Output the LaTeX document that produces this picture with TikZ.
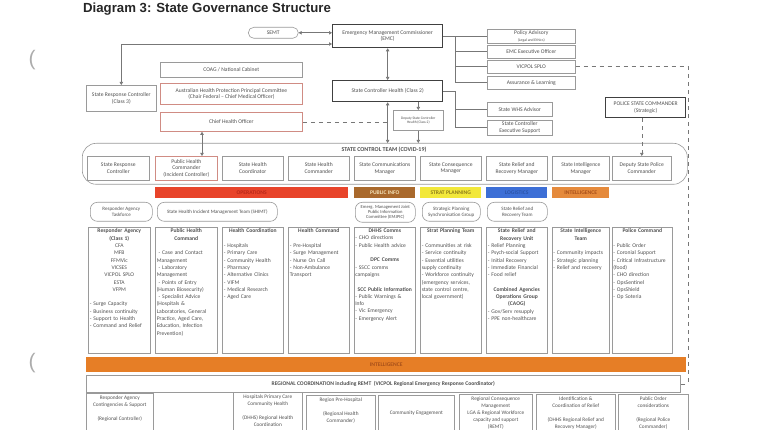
\documentclass[tikz,border=0pt]{standalone}
\usepackage{fontspec}
\setmainfont{Carlito}
\newfontfamily\titlefont{Liberation Sans}
\usetikzlibrary{arrows.meta,positioning}
\definecolor{boxgray}{HTML}{9A9A9A}
\definecolor{txtgray}{HTML}{505050}
\definecolor{linegray}{HTML}{777777}
\definecolor{redline}{HTML}{D08C84}
\definecolor{opsred}{HTML}{E8442A}
\definecolor{opstxt}{HTML}{B8281A}
\definecolor{pinfo}{HTML}{A9692C}
\definecolor{pinfotxt}{HTML}{F3E2B8}
\definecolor{stratyel}{HTML}{F2E83A}
\definecolor{strattxt}{HTML}{8E7E1C}
\definecolor{logiblue}{HTML}{3D6FD6}
\definecolor{logitxt}{HTML}{2C54A8}
\definecolor{intelor}{HTML}{E58A3C}
\definecolor{inteltxt}{HTML}{A8501A}
\definecolor{bigintel}{HTML}{E67E26}
\newcommand\colhead[1]{{\centering\bfseries #1\par}}
\newcommand\colgap{\vspace{7.3pt}}
\tikzset{
  bx/.style={draw=boxgray, line width=0.6pt, fill=white, inner sep=1pt, align=center,
    text=txtgray, font=\fontsize{5.6}{6.6}\selectfont, anchor=north west},
  tbx/.style={bx, draw=black!75, line width=1.3pt},
  redbx/.style={bx, draw=redline, line width=0.8pt},
  pill/.style={bx, rounded corners=5.5pt},
  subbx/.style={bx, rounded corners=7pt},
  conn/.style={draw=linegray, line width=0.6pt},
  arr/.style={conn, -{Triangle[width=3.4pt,length=3pt]}},
  darr/.style={conn, {Triangle[width=3.4pt,length=3pt]}-{Triangle[width=3.4pt,length=3pt]}},
  dsh/.style={conn, dash pattern=on 4pt off 4pt},
  secbar/.style={anchor=north west, inner sep=0pt, minimum height=11,
    font=\fontsize{5.6}{6}\selectfont\bfseries},
  colbox/.style={draw=boxgray, line width=0.6pt, anchor=north west, inner sep=0pt, minimum height=126},
  coltext/.style={anchor=north, inner sep=0pt, text=txtgray,
    font=\fontsize{5.6}{7.3}\selectfont, yshift=-1.8pt},
  bottext/.style={anchor=north, inner sep=0pt, text=txtgray, align=center,
    font=\fontsize{5.3}{7}\selectfont, yshift=-2.5pt},
}
\begin{document}
\begin{tikzpicture}[x=1pt,y=-1pt]
\useasboundingbox (0,0) rectangle (768,430);

% title and margin marks
\node[anchor=base west, inner sep=0pt, font=\titlefont\bfseries\fontsize{13.2}{14}\selectfont, text=black!85] (title) at (83,13) {Diagram 3: State Governance Structure};
\node[inner sep=0pt, font=\titlefont\fontsize{21}{21}\selectfont, text=gray!65] (pa) at (32,60) {(};
\node[inner sep=0pt, font=\titlefont\fontsize{21}{21}\selectfont, text=gray!65] (pb) at (32,363) {(};

% top level
\node[pill, minimum width=50, minimum height=11] (semt) at (248,27) {SEMT};
\node[tbx, minimum width=110, minimum height=23] (emc) at (332,24) {Emergency Management Commissioner\\(EMC)};
\node[bx, minimum width=70, minimum height=26] (src) at (86,85) {State Response Controller\\(Class 3)};
\node[bx, minimum width=142, minimum height=15] (coag) at (160,62) {COAG / National Cabinet};
\node[redbx, minimum width=142, minimum height=21] (ahppc) at (160,83) {Australian Health Protection Principal Committee\\(Chair Federal -- Chief Medical Officer)};
\node[redbx, minimum width=142, minimum height=19] (cho) at (160,112) {Chief Health Officer};
\node[tbx, minimum width=110, minimum height=21] (sch) at (332,80) {State Controller Health (Class 2)};
\node[bx, minimum width=50, minimum height=20, font=\fontsize{3.6}{4.4}\selectfont] (dsch) at (393,110) {Deputy State Controller\\Health (Class 2)};

\node[bx, minimum width=88, minimum height=14] (pol) at (487,29) {Policy Advisory\\{\fontsize{3.8}{4.4}\selectfont (Legal and Ethics)}};
\node[bx, minimum width=88, minimum height=13] (emceo) at (487,45) {EMC Executive Officer};
\node[bx, minimum width=88, minimum height=13] (splo) at (487,60) {VICPOL SPLO};
\node[bx, minimum width=88, minimum height=13] (assur) at (487,76) {Assurance \& Learning};
\node[bx, minimum width=65, minimum height=14] (whs) at (487,102) {State WHS Advisor};
\node[bx, minimum width=65, minimum height=15] (exec) at (487,120) {State Controller\\Executive Support};
\node[tbx, minimum width=80, minimum height=20] (psc) at (605,97) {POLICE STATE COMMANDER\\(Strategic)};

% state control team
\node[draw=boxgray, line width=0.6pt, rounded corners=14pt, minimum width=605, minimum height=41, anchor=north west, inner sep=0pt] (stc) at (82,143) {};
\node[inner sep=0pt, font=\fontsize{6}{7}\selectfont\bfseries, text=txtgray] (stcl) at (384,150) {STATE CONTROL TEAM (COVID-19)};

\node[bx, minimum width=62, minimum height=24] (r1) at (87,156) {State Response\\Controller};
\node[redbx, minimum width=62, minimum height=24] (r2) at (155,156) {Public Health\\Commander\\(Incident Controller)};
\node[bx, minimum width=61, minimum height=24] (r3) at (222,156) {State Health\\Coordinator};
\node[bx, minimum width=61, minimum height=24] (r4) at (288,156) {State Health\\Commander};
\node[bx, minimum width=61, minimum height=24] (r5) at (354,156) {State Communications\\Manager};
\node[bx, minimum width=61, minimum height=24] (r6) at (420,156) {State Consequence\\Manager};
\node[bx, minimum width=61, minimum height=24] (r7) at (486,156) {State Relief and\\Recovery Manager};
\node[bx, minimum width=57, minimum height=24] (r8) at (552,156) {State Intelligence\\Manager};
\node[bx, minimum width=59, minimum height=24] (r9) at (612,156) {Deputy State Police\\Commander};

% section bars
\node[secbar, fill=opsred, text=opstxt, minimum width=193] (ops) at (155,187) {OPERATIONS};
\node[secbar, fill=pinfo, text=pinfotxt, minimum width=61] (pinf) at (354,187) {PUBLIC INFO};
\node[secbar, fill=stratyel, text=strattxt, minimum width=61] (strat) at (420,187) {STRAT PLANNING};
\node[secbar, fill=logiblue, text=logitxt, minimum width=61] (logi) at (486,187) {LOGISTICS};
\node[secbar, fill=intelor, text=inteltxt, minimum width=57] (intel) at (552,187) {INTELLIGENCE};

% sub groups
\node[subbx, minimum width=62, minimum height=19, font=\fontsize{5}{6}\selectfont] (s1) at (90,202) {Responder Agency\\Taskforce};
\node[subbx, minimum width=120, minimum height=19, font=\fontsize{5}{6}\selectfont] (s2) at (157,202) {State Health Incident Management Team (SHIMT)};
\node[subbx, minimum width=60, minimum height=20, font=\fontsize{4.6}{5.4}\selectfont] (s3) at (355,202) {Emerg. Management Joint\\Public Information\\Committee (EMJPIC)};
\node[subbx, minimum width=58, minimum height=19, font=\fontsize{5}{6}\selectfont] (s4) at (422,202) {Strategic Planning\\Synchronisation Group};
\node[subbx, minimum width=60, minimum height=19, font=\fontsize{5}{6}\selectfont] (s5) at (487,202) {State Relief and\\Recovery Team};

% columns
\node[colbox, minimum width=62] (c1) at (88,227) {};
\node[colbox, minimum width=62] (c2) at (155,227) {};
\node[colbox, minimum width=61] (c3) at (222,227) {};
\node[colbox, minimum width=61] (c4) at (288,227) {};
\node[colbox, minimum width=61] (c5) at (354,227) {};
\node[colbox, minimum width=61] (c6) at (420,227) {};
\node[colbox, minimum width=61] (c7) at (486,227) {};
\node[colbox, minimum width=57] (c8) at (552,227) {};
\node[colbox, minimum width=60] (c9) at (612,227) {};

\node[coltext, text width=59pt] (t1) at (c1.north) {\raggedright
\colhead{Responder Agency\\(Class 1)}
{\centering CFA\\MFB\\FFMVic\\VICSES\\VICPOL SPLO\\ESTA\\VFPM\par}
\colgap
- Surge Capacity\\- Business continuity\\- Support to Health\\- Command and Relief\par};
\node[coltext, text width=59pt] (t2) at (c2.north) {\raggedright
\colhead{Public Health\\Command}
\colgap
\ - Case and Contact\\Management\\\ - Laboratory\\Management\\\ - Points of Entry\\(Human Biosecurity)\\\ - Specialist Advice\\(Hospitals \&\\Laboratories, General\\Practice, Aged Care,\\Education, Infection\\Prevention)\par};
\node[coltext, text width=58pt] (t3) at (c3.north) {\raggedright
\colhead{Health Coordination}
\colgap
- Hospitals\\- Primary Care\\- Community Health\\- Pharmacy\\- Alternative Clinics\\- VIFM\\- Medical Research\\- Aged Care\par};
\node[coltext, text width=58pt] (t4) at (c4.north) {\raggedright
\colhead{Health Command}
\colgap
- Pre-Hospital\\- Surge Management\\- Nurse On Call\\- Non-Ambulance\\Transport\par};
\node[coltext, text width=59pt] (t5) at (c5.north) {\raggedright
\colhead{DHHS Comms}
- CHO directions\\- Public Health advice\par
\colgap
\colhead{DPC Comms}
- SSCC comms\\campaigns\par
\colgap
\colhead{SCC Public Information}
- Public Warnings \&\\Info\\- Vic Emergency\\- Emergency Alert\par};
\node[coltext, text width=58pt] (t6) at (c6.north) {\raggedright
\colhead{Strat Planning Team}
\colgap
- Communities at risk\\- Service continuity\\- Essential utilities\\supply continuity\\- Workforce continuity\\(emergency services,\\state control centre,\\local government)\par};
\node[coltext, text width=58pt] (t7) at (c7.north) {\raggedright
\colhead{State Relief and\\Recovery Unit}
- Relief Planning\\- Psych-social Support\\- Initial Recovery\\- Immediate Financial\\- Food relief\par
\colgap
\colhead{Combined Agencies\\Operations Group\\(CAOG)}
- Gov/Serv resupply\\- PPE non-healthcare\par};
\node[coltext, text width=55pt] (t8) at (c8.north) {\raggedright
\colhead{State Intelligence\\Team}
\colgap
- Community impacts\\- Strategic planning\\- Relief and recovery\par};
\node[coltext, text width=58pt] (t9) at (c9.north) {\raggedright
\colhead{Police Command}
\colgap
- Public Order\\- Coronial Support\\- Critical Infrastructure\\(food)\\- CHO direction\\- OpsSentinel\\- OpsShield\\- Op Soteria\par};

% intelligence and regional
\node[anchor=north west, inner sep=0pt, fill=bigintel, minimum width=600, minimum height=15, text=inteltxt, font=\fontsize{5.6}{6}\selectfont\bfseries] (bint) at (86,357) {INTELLIGENCE};
\node[bx, minimum width=594, minimum height=17, font=\fontsize{5.6}{6.6}\selectfont\bfseries] (regc) at (86,375) {REGIONAL COORDINATION including REMT \ (VICPOL Regional Emergency Response Coordinator)};

% bottom row
\node[colbox, minimum width=67, minimum height=45] (b1) at (86,393) {};
\node[colbox, minimum width=69, minimum height=45] (b2) at (233,392) {};
\node[colbox, minimum width=69, minimum height=45] (b3) at (306,395) {};
\node[colbox, minimum width=76, minimum height=45] (b4) at (378,395) {};
\node[colbox, minimum width=73, minimum height=45] (b5) at (459,394) {};
\node[colbox, minimum width=79, minimum height=45] (b6) at (536,394) {};
\node[colbox, minimum width=70, minimum height=45] (b7) at (618,394) {};
\node[bottext] (bt1) at (b1.north) {Responder Agency\\Contingencies \& Support\\[7pt](Regional Controller)};
\node[bottext] (bt2) at (b2.north) {Hospitals Primary Care\\Community Health\\[7pt](DHHS) Regional Health\\Coordination};
\node[bottext] (bt3) at (b3.north) {Region Pre-Hospital\\[7pt](Regional Health\\Commander)};
\node[bottext, yshift=-13pt] (bt4) at (b4.north) {Community Engagement};
\node[bottext] (bt5) at (b5.north) {Regional Consequence\\Management\\LGA \& Regional Workforce\\capacity and support\\(REMT)};
\node[bottext] (bt6) at (b6.north) {Identification \&\\Coordination of Relief\\[7pt](DHHS Regional Relief and\\Recovery Manager)};
\node[bottext] (bt7) at (b7.north) {Public Order\\considerations\\[7pt](Regional Police\\Commander)};

% helper coordinates
\coordinate (emcin) at (332,44);
\coordinate (tr) at (455,0);
\coordinate (rx) at (688,0);
\coordinate (ax) at (202,0);

% connectors
\draw[darr] (semt.east) -- (semt.east -| emc.west);
\draw[darr] (src.north) |- (emcin);
\draw[darr] (emc.south) -- (sch.north);
\draw[darr] (sch.south) -- (sch.south |- stc.north);
\draw[arr] (dsch.north |- sch.south) -- (dsch.north);
\draw[arr] (dsch.south) -- (dsch.south |- stc.north);
\draw[dsh] (cho.east) -- (cho.east -| sch.south);
\draw[darr] (cho.south -| ax) -- (r2.north -| ax);
\draw[conn] (emc.east) -- (emc.east -| tr) -- (assur.west -| tr) -- (assur.west);
\foreach \n in {pol,emceo,splo} \draw[conn] (\n.west -| tr) -- (\n.west);
\draw[conn] (sch.east) -- (sch.east -| tr) -- (exec.west -| tr) -- (exec.west);
\draw[conn] (whs.west -| tr) -- (whs.west);
\draw[dsh] (splo.east) -- (splo.east -| rx) -- (regc.east -| rx) -- (regc.east);
\draw[dsh, -{Triangle[width=3.4pt,length=3pt]}] (r9.north |- psc.south) -- (r9.north);
\end{tikzpicture}
\end{document}
